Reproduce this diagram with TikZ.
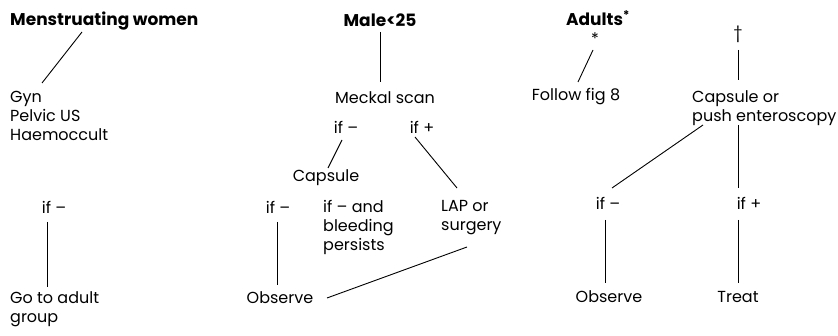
\documentclass[tikz,border=0pt]{standalone}
\usepackage{fontspec}
\setmainfont{Poppins}
\usetikzlibrary{positioning}

\begin{document}
\begin{tikzpicture}[
    x=1pt, y=-1pt,
    head/.style={font=\fontsize{17}{20}\selectfont\bfseries, inner sep=0pt},
    label/.style={font=\fontsize{16}{19}\selectfont, inner sep=0pt, align=left},
    link/.style={line width=0.9pt}
]
\useasboundingbox (0,0) rectangle (838,336);

% Menstruating women branch
\node[head, anchor=west] (women) at (10,21) {Menstruating women};
\node[label, anchor=north west] (gyn) at (10,91) {Gyn\\Pelvic US\\Haemoccult};
\node[label] (wneg) at (54,207) {if --};
\node[label, anchor=north west] (adult) at (10,291) {Go to adult\\group};

% Male < 25 branch
\node[head] (male) at (380,20) {Male<25};
\node[label] (meckel) at (385,98) {Meckal scan};
\node[label] (mneg) at (346,127) {if --};
\node[label] (mpos) at (422,127) {if +};
\node[label] (capsule) at (326,178) {Capsule};
\node[label] (cneg) at (278,207) {if --};
\node[label, anchor=north west] (persist) at (323,200) {if -- and\\bleeding\\persists};
\node[label, anchor=north west] (lap) at (441,200) {LAP or\\surgery};
\node[label] (mobs) at (280,298) {Observe};

% Adults branch
\node[head] (adults) at (598,18) {Adults\textsuperscript{*}};
\node[label] (star) at (595,39) {*};
\node[label] (fig) at (576,97) {Follow fig 8};
\node[label] (dagger) at (738,34) {†};
\node[label, anchor=north west] (push) at (692,90) {Capsule or\\push enteroscopy};
\node[label] (aneg) at (608,203) {if --};
\node[label] (apos) at (749,203) {if +};
\node[label] (aobs) at (609,297) {Observe};
\node[label] (treat) at (738,297) {Treat};

% Lines
\draw[link] ([shift={(72,11)}]women.west) -- ([shift={(32,-8)}]gyn.north west);
\draw[link] ([shift={(-7,15)}]wneg.center) -- ([shift={(37,-4)}]adult.north west);
\draw[link] ([shift={(0,12)}]male.center) -- ([shift={(-5,-16)}]meckel.center);
\draw[link] ([shift={(-4,13)}]mneg.center) -- ([shift={(2,-10)}]capsule.center);
\draw[link] ([shift={(-7,10)}]mpos.center) -- ([shift={(16,-12)}]lap.north west);
\draw[link] ([shift={(-1,15)}]cneg.center) -- ([shift={(-3,-13)}]mobs.center);
\draw[link] ([shift={(47,0)}]mobs.center) -- ([shift={(26,47)}]lap.north west);
\draw[link] ([shift={(-2,11)}]star.center) -- ([shift={(2,-15)}]fig.center);
\draw[link] ([shift={(0,16)}]dagger.center) -- ([shift={(46,-10)}]push.north west);
\draw[link] ([shift={(11,35)}]push.north west) -- ([shift={(4,-15)}]aneg.center);
\draw[link] ([shift={(46,35)}]push.north west) -- ([shift={(-11,-15)}]apos.center);
\draw[link] ([shift={(-3,17)}]aneg.center) -- ([shift={(-4,-14)}]aobs.center);
\draw[link] ([shift={(-11,17)}]apos.center) -- ([shift={(0,-14)}]treat.center);

\end{tikzpicture}
\end{document}
